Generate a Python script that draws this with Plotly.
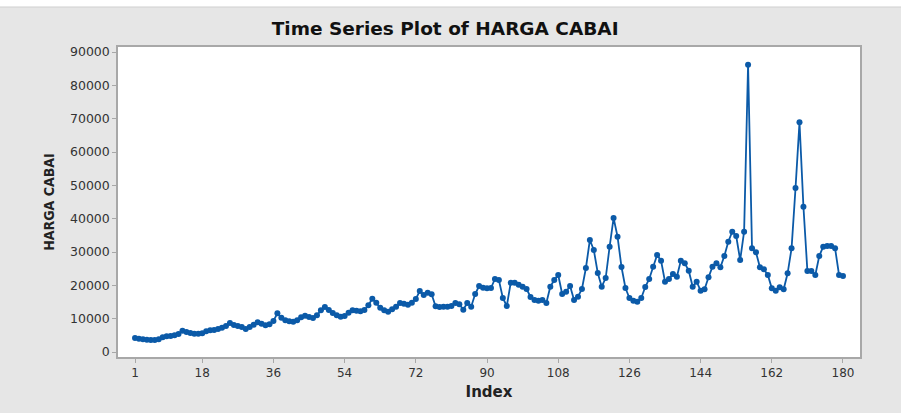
import plotly.graph_objects as go

index = list(range(1, 181))

harga_cabai = [
    4200, 4000, 3800, 3700, 3600, 3600, 3800, 4400, 4700, 4800,
    5000, 5400, 6400, 6000, 5700, 5500, 5500, 5600, 6200, 6500,
    6600, 6900, 7300, 7800, 8700, 8100, 7800, 7500, 6900, 7500,
    8200, 8900, 8500, 8000, 8300, 9300, 11600, 10300, 9500, 9200,
    9100, 9500, 10400, 10900, 10500, 10200, 11000, 12500, 13500, 12600,
    11700, 11000, 10600, 10800, 11800, 12500, 12400, 12200, 12600, 14000,
    16000, 14800, 13300, 12500, 12100, 12800, 13600, 14700, 14500, 14200,
    14800, 15900, 18300, 17100, 17800, 17300, 13700, 13500, 13600, 13600,
    13800, 14700, 14300, 12700, 14700, 13600, 17400, 19800, 19300, 19100,
    19200, 21900, 21600, 16200, 13800, 20800, 20800, 20200, 19600, 18900,
    16500, 15600, 15400, 15600, 14700, 19600, 21600, 23100, 17400, 18100,
    19800, 15600, 16600, 18900, 25200, 33600, 30600, 23700, 19600, 22200,
    31600, 40200, 34600, 25500, 19200, 16200, 15400, 15100, 16200, 19500,
    21900, 25600, 29100, 27400, 21100, 21900, 23400, 22600, 27400, 26600,
    24400, 19600, 21100, 18400, 18800, 22400, 25600, 26600, 25400, 28800,
    33100, 36100, 34800, 27600, 36100, 86200, 31100, 29900, 25400, 24800,
    23100, 19100, 18400, 19400, 18800, 23600, 31100, 49200, 68900, 43600,
    24300, 24300, 23100, 28800, 31600, 31800, 31800, 31100, 23100, 22800,
]

x_ticks = [1, 18, 36, 54, 72, 90, 108, 126, 144, 162, 180]
y_ticks = [0, 10000, 20000, 30000, 40000, 50000, 60000, 70000, 80000, 90000]

blue = "#0b5aa8"

fig = go.Figure()
fig.add_trace(go.Scatter(
    x=index, y=harga_cabai, mode="lines+markers",
    line=dict(color=blue, width=1.8),
    marker=dict(color=blue, size=6, symbol="circle"),
    showlegend=False, hoverinfo="x+y",
))

W, H = 901, 413
L, R, T, B = 118, 41, 47, 56
ph = H - T - B

fig.update_layout(
    width=W, height=H,
    margin=dict(l=L, r=R, t=T, b=B),
    paper_bgcolor="#e6e6e6",
    plot_bgcolor="white",
    title=dict(text="Time Series Plot of HARGA CABAI", x=0.494, xanchor="center",
               y=1 - 29 / H, yanchor="middle",
               font=dict(family="DejaVu Sans", size=18.5, color="#111111", weight="bold")),
    xaxis=dict(range=[-3.3, 184.3], tickvals=x_ticks, ticktext=[str(t) for t in x_ticks],
               showgrid=False, zeroline=False, showline=True, linecolor="#a8a8a8", linewidth=1.5,
               mirror=True, ticks="outside", ticklen=4, tickcolor="#a8a8a8",
               tickfont=dict(family="DejaVu Sans", size=12, color="#333333"),
               title=dict(text="Index", font=dict(family="DejaVu Sans", size=15, color="#222222", weight="bold"),
                          standoff=7)),
    yaxis=dict(range=[-1500, 91500], tickvals=y_ticks, ticktext=[str(t) for t in y_ticks],
               showgrid=False, zeroline=False, showline=True, linecolor="#a8a8a8", linewidth=1.5,
               mirror=True, ticks="outside", ticklen=4, tickcolor="#a8a8a8",
               tickfont=dict(family="DejaVu Sans", size=12.5, color="#333333"),
               title=dict(text="HARGA CABAI", font=dict(family="Liberation Sans Narrow, DejaVu Sans Condensed, DejaVu Sans", size=14, color="#222222", weight="bold"),
                          standoff=12)),
    shapes=[
        dict(type="rect", xref="paper", yref="paper",
             x0=-L / (W - L - R), x1=1 + R / (W - L - R),
             y0=1 + (T - 7) / ph, y1=1 + T / ph,
             fillcolor="white", line=dict(width=0), layer="below"),
        dict(type="line", xref="paper", yref="paper",
             x0=-L / (W - L - R), x1=1 + R / (W - L - R),
             y0=1 + (T - 7) / ph, y1=1 + (T - 7) / ph,
             line=dict(color="#cfcfcf", width=1)),
    ],
)

fig.write_html("out.html")
